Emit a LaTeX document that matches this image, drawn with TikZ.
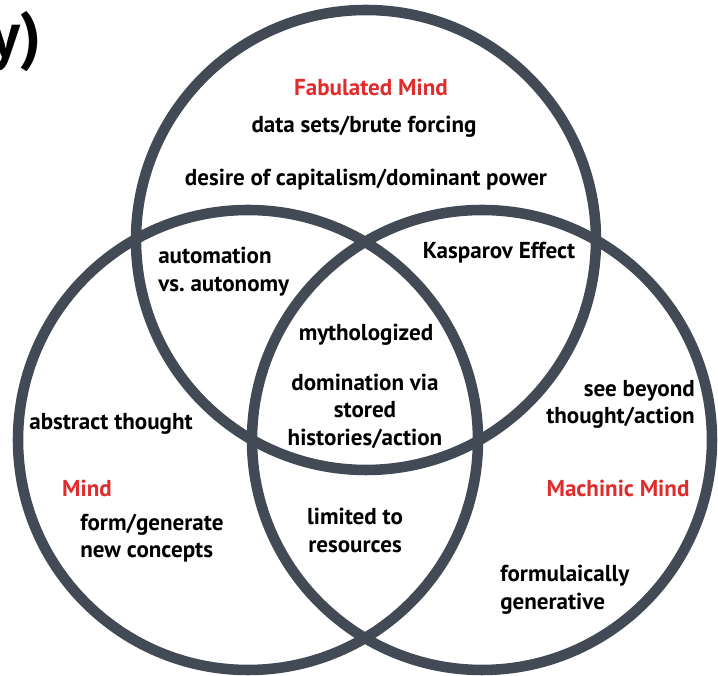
\documentclass[tikz,border=0pt]{standalone}
\usepackage{fontspec}
\setmainfont{PT Sans}
\definecolor{ringgrey}{RGB}{66,75,85}
\definecolor{mindred}{RGB}{224,44,44}
\tikzset{
  ring/.style={draw=ringgrey, line width=7.5pt},
  lbl/.style={font=\fontsize{16.4}{19.6}\selectfont\bfseries, inner sep=0pt, align=center},
  mindlbl/.style={lbl, text=mindred},
}

\begin{document}
\begin{tikzpicture}
\useasboundingbox (0,0) rectangle (17.95,16.9);
% the three minds
\draw[ring] (9.15,10.9) circle (5.75);
\draw[ring] (6.2,5.9) circle (5.75);
\draw[ring] (12.05,5.9) circle (5.75);
% cut off heading
\node[anchor=base east, inner sep=0pt, font=\fontsize{46}{46}\selectfont\bfseries] (head) at (1.05,15.45) {y)};
% top circle
\node[mindlbl] (fab) at (9.275,14.725) {Fabulated Mind};
\node[lbl] (data) at (9.1,13.725) {data sets/brute forcing};
\node[lbl] (desire) at (9.15,12.4) {desire of capitalism/dominant power};
% overlaps
\node[lbl, anchor=west, align=left] (auto) at (3.95,10.11) {automation\\vs.\ autonomy};
\node[lbl] (kasp) at (12.475,10.575) {Kasparov Effect};
\node[lbl] (myth) at (9.15,8.525) {mythologized};
\node[lbl] (domin) at (9.125,6.625) {domination via\\stored\\histories/action};
\node[lbl] (limit) at (8.875,3.64) {limited to\\resources};
% left circle
\node[lbl] (abstr) at (2.775,6.3) {abstract thought};
\node[mindlbl] (mind) at (2.175,4.7) {Mind};
\node[lbl, anchor=west, align=left] (form) at (2.0,3.45) {form/generate\\new concepts};
% right circle
\node[lbl, anchor=east, align=right] (see) at (17.375,6.79) {see beyond\\thought/action};
\node[mindlbl] (mach) at (15.45,4.7) {Machinic Mind};
\node[lbl, anchor=west, align=left] (formul) at (12.5,2.15) {formulaically\\generative};
\end{tikzpicture}
\end{document}
